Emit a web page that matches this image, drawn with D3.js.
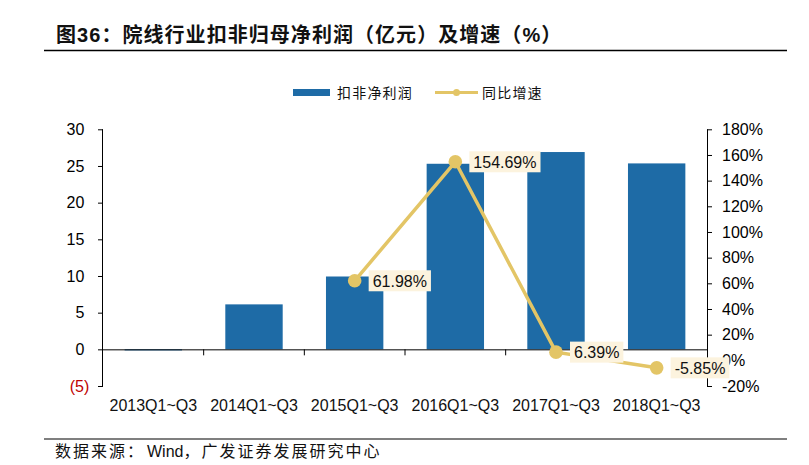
<!DOCTYPE html>
<html><head><meta charset="utf-8">
<script src="https://cdn.jsdelivr.net/npm/d3@7"></script>
<style>
html,body{margin:0;padding:0;background:#fff;}
svg{display:block;}
</style></head>
<body>
<svg id="chart" width="809" height="465"></svg>
<script>
const categories = ["2013Q1~Q3","2014Q1~Q3","2015Q1~Q3","2016Q1~Q3","2017Q1~Q3","2018Q1~Q3"];
const profit = [-0.15, 6.13, 9.93, 25.3, 26.9, 25.35];
const growth = [null, null, 61.98, 154.69, 6.39, -5.85];
const leftTicks = [-5, 0, 5, 10, 15, 20, 25, 30];
const rightTicks = [-20, 0, 20, 40, 60, 80, 100, 120, 140, 160, 180];
const titleText = "图36：院线行业扣非归母净利润（亿元）及增速（%）";
const sourceParts = ["数据来源：", "Wind", "，广发证券发展研究中心"];
const legendLabels = ["扣非净利润", "同比增速"];

const BLUE = "#1E6BA6", GOLD = "#E3C566", LABELBG = "#FCF3DE";
const latin = "'Liberation Sans', Arial, sans-serif";
const cjk = "'Liberation Sans','Noto Sans CJK SC', sans-serif";

const svg = d3.select("#chart");
const plotL = 103, plotR = 707, plotT = 129.3, plotB = 386;

const x = d3.scaleBand().domain(categories).range([plotL, plotR]).paddingInner(0.43).paddingOuter(0.215);
const y = d3.scaleLinear().domain([-5, 30]).range([plotB, plotT]);
const y2 = d3.scaleLinear().domain([-20, 180]).range([plotB, plotT]);

// Title
svg.append("text").attr("x", 56).attr("y", 42)
  .attr("font-family", cjk).attr("font-weight", "bold").attr("font-size", 20).attr("fill", "#111")
  .attr("letter-spacing", 1.05)
  .text(titleText);
svg.append("line").attr("x1", 44).attr("x2", 787).attr("y1", 50.5).attr("y2", 50.5)
  .attr("stroke", "#000").attr("stroke-width", 1.5);

// Legend
svg.append("rect").attr("x", 293).attr("y", 89).attr("width", 37).attr("height", 7).attr("fill", BLUE);
svg.append("text").attr("x", 337).attr("y", 97.5).attr("font-family", cjk).attr("font-size", 14).attr("letter-spacing", 1.2).attr("fill", "#111").text(legendLabels[0]);
svg.append("line").attr("x1", 435).attr("x2", 478).attr("y1", 92.5).attr("y2", 92.5).attr("stroke", GOLD).attr("stroke-width", 3);
svg.append("circle").attr("cx", 456.5).attr("cy", 92.5).attr("r", 3.5).attr("fill", GOLD);
svg.append("text").attr("x", 482).attr("y", 97.5).attr("font-family", cjk).attr("font-size", 14).attr("letter-spacing", 1.2).attr("fill", "#111").text(legendLabels[1]);

// Bars
svg.append("g").selectAll("rect").data(categories).join("rect")
  .attr("x", d => x(d))
  .attr("width", x.bandwidth())
  .attr("y", (d, i) => Math.min(y(profit[i]), y(0)))
  .attr("height", (d, i) => Math.max(1, Math.abs(y(profit[i]) - y(0))))
  .attr("fill", BLUE);

// Left axis
const gL = svg.append("g").attr("transform", `translate(${plotL},0)`)
  .call(d3.axisLeft(y).tickValues(leftTicks).tickSize(5).tickPadding(0)
    .tickFormat(d => d < 0 ? `(${-d})` : `${d}`));
gL.select(".domain").attr("stroke", "#000").attr("d", `M-0.5,${plotB}V${plotT}`);
gL.selectAll(".tick line").attr("stroke", "#000");
gL.selectAll(".tick text").attr("font-family", latin).attr("font-size", 16).attr("fill", d => d < 0 ? "#C00000" : "#000")
  .attr("x", d => d < 0 ? -13.7 : -18.7).attr("text-anchor", "end");

// Right axis
const gR = svg.append("g").attr("transform", `translate(${plotR},0)`)
  .call(d3.axisRight(y2).tickValues(rightTicks).tickSize(5).tickPadding(10).tickFormat(d => d + "%"));
gR.select(".domain").attr("stroke", "#000").attr("d", `M0.5,${plotB}V${plotT}`);
gR.selectAll(".tick line").attr("stroke", "#000");
gR.selectAll(".tick text").attr("font-family", latin).attr("font-size", 16).attr("fill", "#000");

// Category axis at zero
const gX = svg.append("g").attr("transform", `translate(0,${y(0)})`)
  .call(d3.axisBottom(x).tickSize(0).tickFormat(() => ""));
gX.select(".domain").attr("stroke", "#000").attr("d", `M${plotL},0.5H${plotR}`);
gX.selectAll(".tick").remove();
const step = x.step();
const bounds = d3.range(1, categories.length).map(i => plotL + step * i);
gX.selectAll("line.sep").data(bounds).join("line").attr("class", "sep")
  .attr("x1", d => d).attr("x2", d => d).attr("y1", 0).attr("y2", 6).attr("stroke", "#000");
svg.append("g").selectAll("text").data(categories).join("text")
  .attr("x", d => x(d) + x.bandwidth() / 2).attr("y", 411)
  .attr("text-anchor", "middle").attr("font-family", latin).attr("font-size", 16).attr("fill", "#111")
  .text(d => d);

// Growth line
const pts = categories.map((c, i) => ({c, v: growth[i]})).filter(d => d.v !== null);
const line = d3.line().x(d => x(d.c) + x.bandwidth() / 2).y(d => y2(d.v));
svg.append("path").datum(pts).attr("d", line).attr("fill", "none").attr("stroke", GOLD).attr("stroke-width", 3.5);
svg.append("g").selectAll("circle").data(pts).join("circle")
  .attr("cx", d => x(d.c) + x.bandwidth() / 2).attr("cy", d => y2(d.v)).attr("r", 6.8).attr("fill", GOLD);

// Labels
const lg = svg.append("g").selectAll("g").data(pts).join("g")
  .attr("transform", d => `translate(${x(d.c) + x.bandwidth() / 2 + 14},${y2(d.v)})`);
lg.each(function(d) {
  const g = d3.select(this);
  const t = g.append("text").attr("x", 4).attr("y", 6).attr("font-family", latin).attr("font-size", 16).attr("fill", "#111")
    .text(d.v.toFixed(2) + "%");
  const w = t.node().getComputedTextLength();
  g.insert("rect", "text").attr("x", 0).attr("y", -10.5).attr("width", w + 8).attr("height", 21).attr("fill", LABELBG);
});

// Footer
svg.append("line").attr("x1", 44).attr("x2", 787).attr("y1", 439).attr("y2", 439).attr("stroke", "#000").attr("stroke-width", 1.2);
const ft = svg.append("text").attr("x", 55).attr("y", 457).attr("font-family", cjk).attr("font-size", 16).attr("fill", "#111");
ft.selectAll("tspan").data(sourceParts).join("tspan")
  .attr("letter-spacing", (d, i) => i === 1 ? 0 : 2)
  .attr("dx", (d, i) => i === 1 ? 2 : 0)
  .text(d => d);
</script>
</body></html>
